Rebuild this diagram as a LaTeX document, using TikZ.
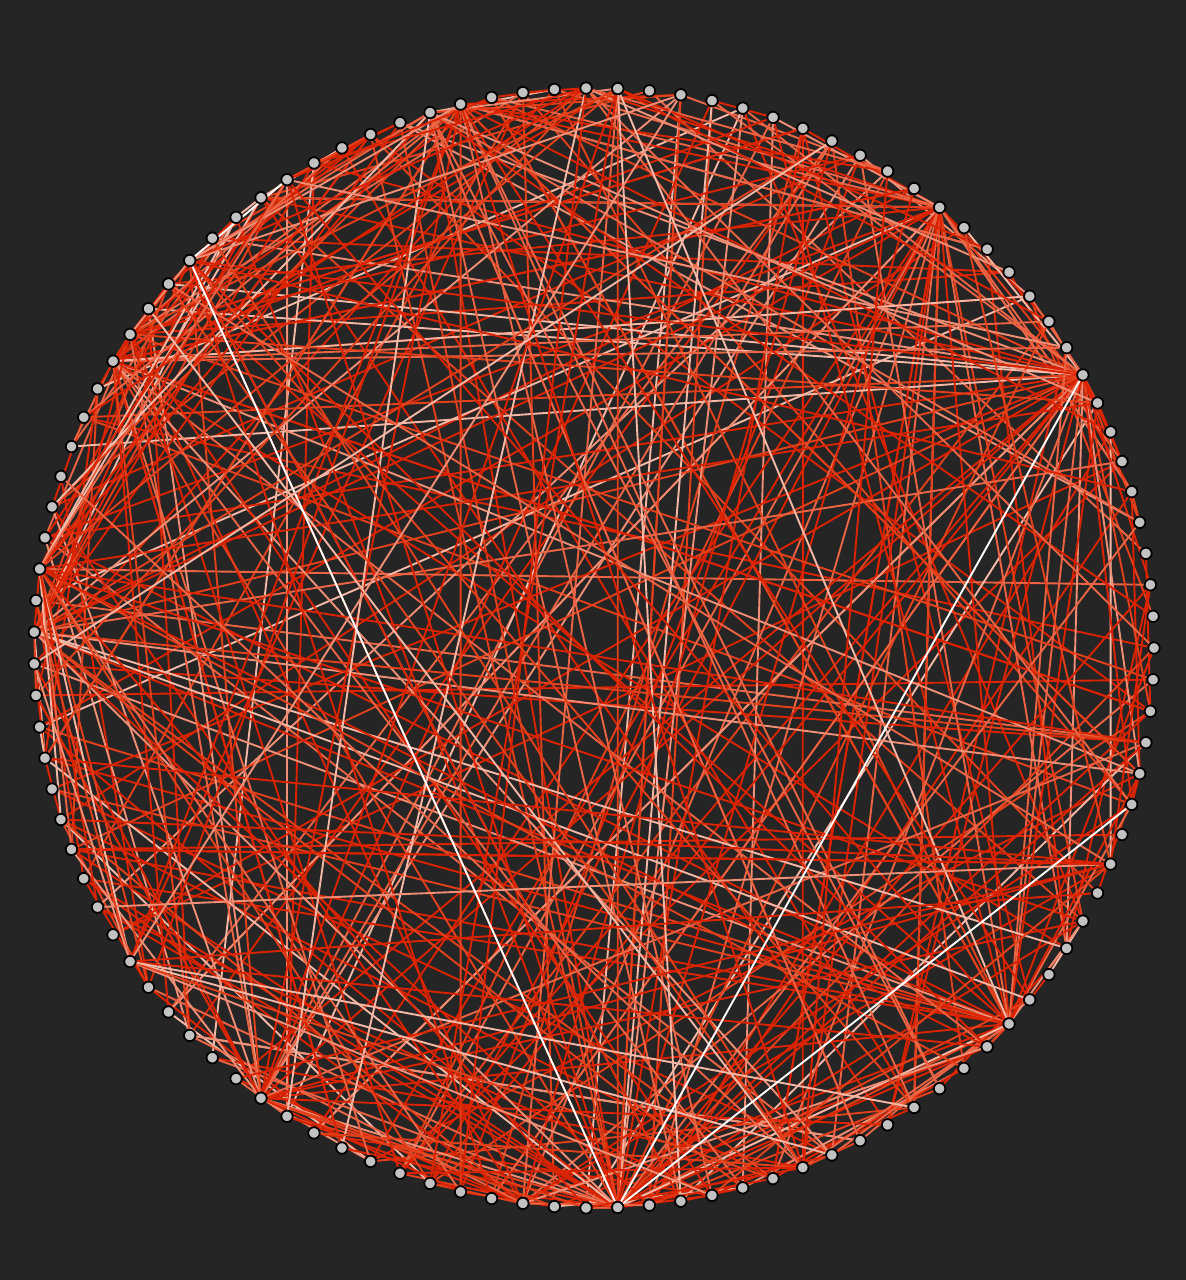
\documentclass[tikz,border=0pt]{standalone}
\usepackage{tikz}

\definecolor{bgdark}{HTML}{252525}
\definecolor{nodegray}{HTML}{C2C2C2}
\definecolor{edgeA}{HTML}{DC2300}
\definecolor{edgeB}{HTML}{E4401C}
\definecolor{edgeC}{HTML}{EC6444}
\definecolor{edgeD}{HTML}{F08E76}
\definecolor{edgeE}{HTML}{F5B8A6}

\pgfdeclarelayer{bg}
\pgfdeclarelayer{edges}
\pgfsetlayers{bg,edges,main}

\tikzset{
  vertex/.style={circle, draw=black, fill=nodegray, line width=1.8, inner sep=0pt, minimum size=11.5},
  link/.style={line width=1.9},
}

\pgfmathdeclarerandomlist{plaincols}{{edgeA}{edgeA}{edgeA}{edgeA}{edgeA}{edgeB}{edgeB}{edgeC}{edgeD}{edgeE}}
\pgfmathdeclarerandomlist{hubcols}{{edgeA}{edgeA}{edgeA}{edgeA}{edgeB}{edgeB}{edgeC}{edgeC}{edgeD}{edgeE}}

\begin{document}
\begin{tikzpicture}[x=1pt, y=1pt]

\begin{pgfonlayer}{bg}
\fill[bgdark] (0,0) rectangle (1186,1280);
\end{pgfonlayer}

\begin{scope}[shift={(594,632)}]
\foreach \k in {0,...,110}
  \node[vertex] (n\k) at ({\k/111*360}:560) {};
\end{scope}

\pgfmathsetseed{1186}
\begin{pgfonlayer}{edges}
\foreach \i in {0,...,110} {
  \pgfmathrandominteger{\t}{0}{110}
  \pgfmathrandomitem{\col}{plaincols}
  \draw[link, draw=\col] (n\i) -- (n\t);
  \pgfmathrandominteger{\s}{-20}{8}
  \ifnum\s>0
    \pgfmathtruncatemacro{\t}{mod(\i+\s,111)}
    \pgfmathrandomitem{\col}{plaincols}
    \draw[link, draw=\col] (n\i) -- (n\t);
  \fi
}

\foreach \h/\d in {16/34, 9/36, 98/28, 84/36, 81/14, 72/16, 46/22, 45/14, 55/20, 53/18, 32/18, 33/12, 28/10, 27/8, 42/12, 38/8, 90/10, 104/10, 66/10} {
  \foreach \j in {1,...,\d} {
    \pgfmathrandominteger{\t}{0}{110}
    \pgfmathrandomitem{\col}{hubcols}
    \draw[link, draw=\col] (n\h) -- (n\t);
  }
}

\draw[link, draw=white] (n42) -- (n38);
\draw[link, draw=white] (n42) -- (n84);
\draw[link, draw=white] (n9) -- (n84);
\draw[link, draw=white] (n106) -- (n84);
\draw[link, draw=edgeE] (n56) -- (n20);
\end{pgfonlayer}

\end{tikzpicture}
\end{document}
